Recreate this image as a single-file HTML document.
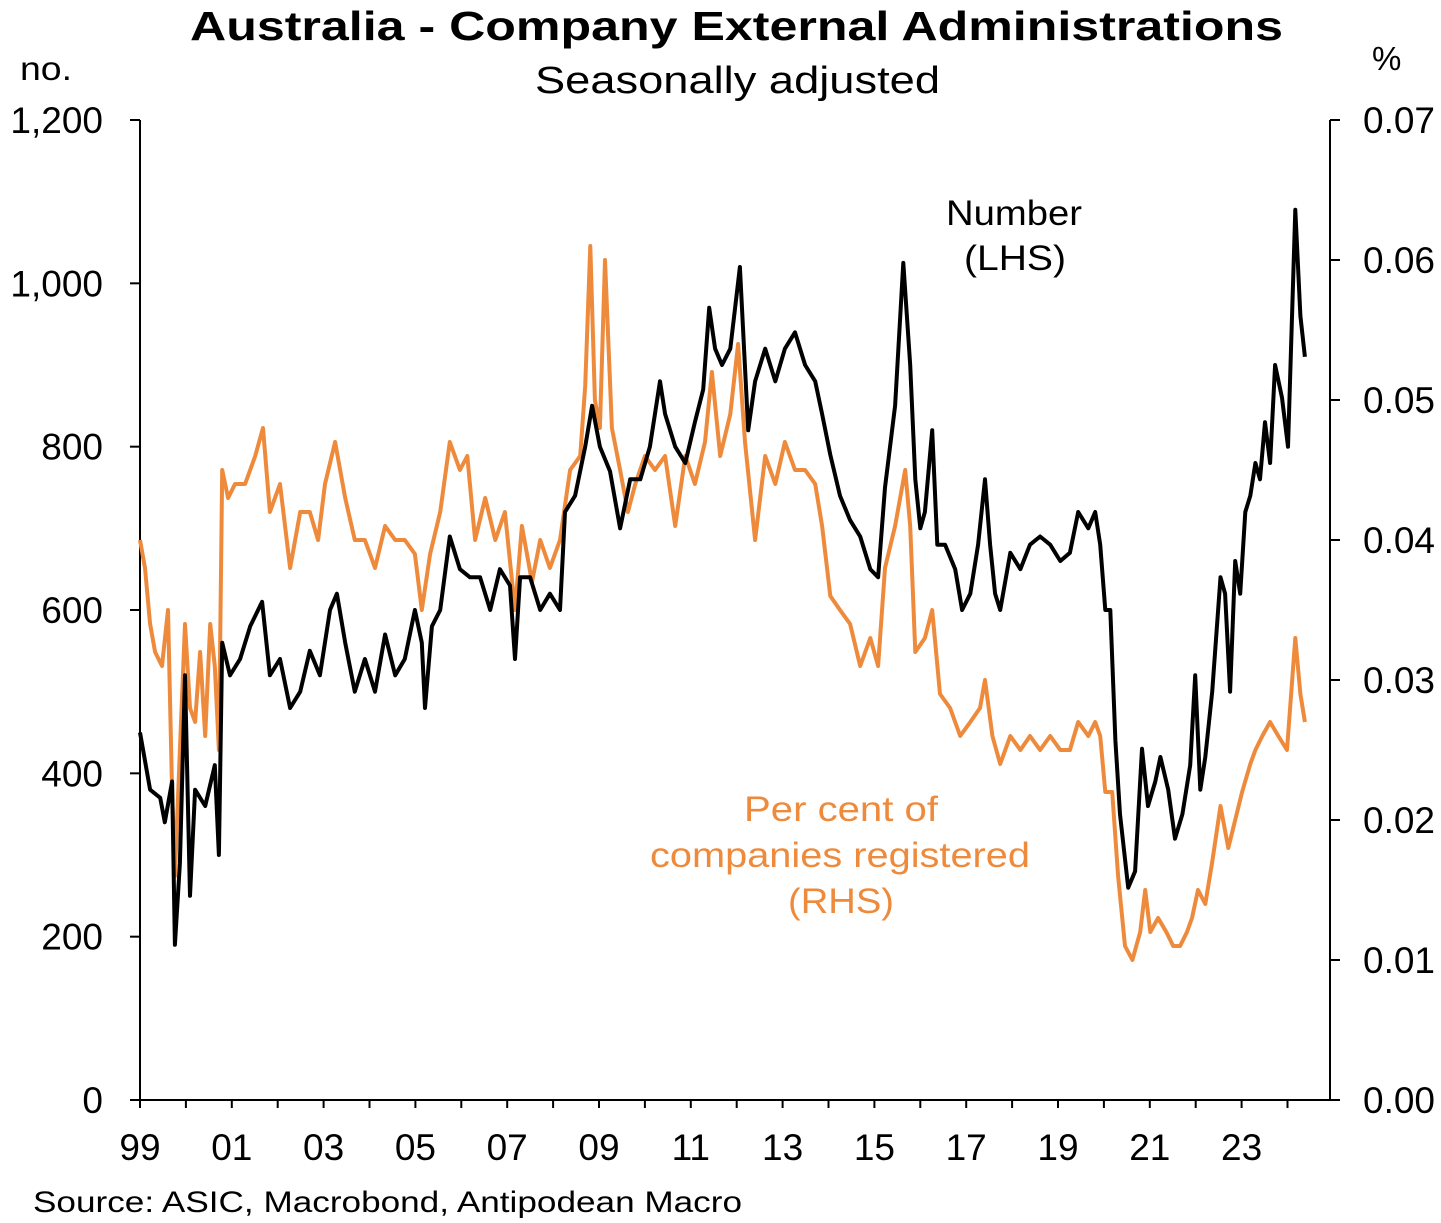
<!DOCTYPE html>
<html><head><meta charset="utf-8">
<style>
html,body{margin:0;padding:0;background:#fff;}
svg{display:block;font-family:"Liberation Sans",Arial,sans-serif;}
</style></head>
<body>
<svg id="chart" width="1441" height="1223" viewBox="0 0 1441 1223" xmlns="http://www.w3.org/2000/svg">
<text x="190" y="40" font-size="41" font-weight="bold" textLength="1093" lengthAdjust="spacingAndGlyphs">Australia - Company External Administrations</text>
<text x="535" y="93" font-size="38" textLength="405" lengthAdjust="spacingAndGlyphs">Seasonally adjusted</text>
<text x="20" y="80" font-size="33" textLength="52" lengthAdjust="spacingAndGlyphs">no.</text>
<text x="1372" y="70" font-size="33">%</text>
<text x="33" y="1212" font-size="30" textLength="709" lengthAdjust="spacingAndGlyphs">Source: ASIC, Macrobond, Antipodean Macro</text>
<text x="946" y="225" font-size="35" textLength="136" lengthAdjust="spacingAndGlyphs">Number</text>
<text x="964" y="270" font-size="35" textLength="102" lengthAdjust="spacingAndGlyphs">(LHS)</text>
<text x="744" y="821" font-size="35" fill="#EE8A3C" textLength="194" lengthAdjust="spacingAndGlyphs">Per cent of</text>
<text x="650" y="867" font-size="35" fill="#EE8A3C" textLength="380" lengthAdjust="spacingAndGlyphs">companies registered</text>
<text x="788" y="913" font-size="35" fill="#EE8A3C" textLength="106" lengthAdjust="spacingAndGlyphs">(RHS)</text>
<g id="axes"></g>
<g id="series"></g>
</svg>
<script>
const leftTicks=[0,200,400,600,800,1000,1200];
const leftTickLabels=["0","200","400","600","800","1,000","1,200"];
const rightTicks=[0,0.01,0.02,0.03,0.04,0.05,0.06,0.07];
const rightTickLabels=["0.00","0.01","0.02","0.03","0.04","0.05","0.06","0.07"];
const xTickYears=[1999,2001,2003,2005,2007,2009,2011,2013,2015,2017,2019,2021,2023];
const xTickLabels=["99","01","03","05","07","09","11","13","15","17","19","21","23"];

const numberDates=[1999.00,1999.22,1999.44,1999.54,1999.70,1999.76,1999.87,1999.98,2000.09,2000.20,2000.42,2000.63,2000.72,2000.79,2000.96,2001.18,2001.40,2001.66,2001.83,2002.05,2002.27,2002.49,2002.70,2002.92,2003.14,2003.29,2003.47,2003.68,2003.90,2004.12,2004.34,2004.56,2004.77,2004.99,2005.14,2005.21,2005.36,2005.54,2005.75,2005.97,2006.19,2006.41,2006.63,2006.84,2007.06,2007.17,2007.28,2007.50,2007.72,2007.93,2008.15,2008.26,2008.48,2008.70,2008.85,2009.02,2009.24,2009.46,2009.68,2009.90,2010.11,2010.33,2010.44,2010.66,2010.88,2011.09,2011.27,2011.40,2011.53,2011.68,2011.86,2012.07,2012.25,2012.40,2012.62,2012.84,2013.05,2013.27,2013.49,2013.71,2013.86,2014.04,2014.25,2014.47,2014.69,2014.91,2015.08,2015.23,2015.45,2015.63,2015.78,2015.89,2016.00,2016.10,2016.26,2016.37,2016.54,2016.76,2016.91,2017.09,2017.26,2017.41,2017.52,2017.63,2017.74,2017.96,2018.18,2018.39,2018.61,2018.83,2019.05,2019.26,2019.44,2019.66,2019.81,2019.92,2020.03,2020.14,2020.25,2020.35,2020.53,2020.68,2020.83,2020.96,2021.12,2021.23,2021.40,2021.55,2021.71,2021.88,2021.99,2022.10,2022.21,2022.36,2022.54,2022.64,2022.75,2022.86,2022.97,2023.08,2023.19,2023.30,2023.40,2023.51,2023.62,2023.73,2023.88,2024.01,2024.17,2024.28,2024.38];
const numberValues=[450,380,370,340,390,190,290,520,250,380,360,410,300,560,520,540,580,610,520,540,480,500,550,520,600,620,560,500,540,500,570,520,540,600,560,480,580,600,690,650,640,640,600,650,630,540,640,640,600,620,600,720,740,800,850,800,770,700,760,760,800,880,840,800,780,830,870,970,920,900,920,1020,820,880,920,880,920,940,900,880,840,790,740,710,690,650,640,750,850,1025,900,760,700,720,820,680,680,650,600,620,680,760,680,620,600,670,650,680,690,680,660,670,720,700,720,680,600,600,440,350,260,280,430,360,390,420,380,320,350,410,520,380,420,500,640,620,500,660,620,720,740,780,760,830,780,900,860,800,1090,960,910];

const pctDates=[1999.00,1999.11,1999.22,1999.33,1999.48,1999.61,1999.70,1999.76,1999.87,1999.98,2000.09,2000.20,2000.31,2000.42,2000.53,2000.63,2000.72,2000.79,2000.92,2001.07,2001.29,2001.51,2001.68,2001.83,2002.05,2002.27,2002.49,2002.70,2002.88,2003.03,2003.25,2003.47,2003.68,2003.90,2004.12,2004.34,2004.56,2004.77,2004.99,2005.14,2005.32,2005.54,2005.75,2005.97,2006.13,2006.30,2006.52,2006.74,2006.95,2007.17,2007.32,2007.54,2007.72,2007.93,2008.15,2008.37,2008.59,2008.70,2008.81,2008.91,2009.02,2009.13,2009.28,2009.46,2009.63,2009.79,2010.00,2010.22,2010.44,2010.66,2010.88,2011.09,2011.31,2011.46,2011.64,2011.86,2012.03,2012.18,2012.40,2012.62,2012.84,2013.05,2013.27,2013.49,2013.71,2013.86,2014.04,2014.25,2014.47,2014.69,2014.91,2015.08,2015.23,2015.45,2015.67,2015.78,2015.89,2016.10,2016.26,2016.43,2016.65,2016.87,2017.09,2017.30,2017.41,2017.57,2017.74,2017.96,2018.18,2018.39,2018.61,2018.83,2019.05,2019.26,2019.44,2019.66,2019.81,2019.92,2020.03,2020.18,2020.31,2020.46,2020.62,2020.79,2020.90,2021.01,2021.18,2021.36,2021.51,2021.66,2021.81,2021.92,2022.05,2022.21,2022.36,2022.54,2022.71,2022.86,2023.01,2023.19,2023.30,2023.45,2023.62,2023.80,2023.99,2024.17,2024.28,2024.38];
const pctValues=[0.040,0.038,0.034,0.032,0.031,0.035,0.022,0.016,0.025,0.034,0.028,0.027,0.032,0.026,0.034,0.031,0.025,0.045,0.043,0.044,0.044,0.046,0.048,0.042,0.044,0.038,0.042,0.042,0.040,0.044,0.047,0.043,0.040,0.040,0.038,0.041,0.040,0.040,0.039,0.035,0.039,0.042,0.047,0.045,0.046,0.040,0.043,0.040,0.042,0.035,0.041,0.037,0.040,0.038,0.040,0.045,0.046,0.051,0.061,0.050,0.048,0.060,0.048,0.045,0.042,0.044,0.046,0.045,0.046,0.041,0.046,0.044,0.047,0.052,0.046,0.049,0.054,0.047,0.040,0.046,0.044,0.047,0.045,0.045,0.044,0.041,0.036,0.035,0.034,0.031,0.033,0.031,0.038,0.041,0.045,0.041,0.032,0.033,0.035,0.029,0.028,0.026,0.027,0.028,0.030,0.026,0.024,0.026,0.025,0.026,0.025,0.026,0.025,0.025,0.027,0.026,0.027,0.026,0.022,0.022,0.016,0.011,0.010,0.012,0.015,0.012,0.013,0.012,0.011,0.011,0.012,0.013,0.015,0.014,0.017,0.021,0.018,0.020,0.022,0.024,0.025,0.026,0.027,0.026,0.025,0.033,0.029,0.027];

const NS="http://www.w3.org/2000/svg";
const X0=140,X1=1330,YT=120,YB=1100;
function xScale(yr){return X0+(yr-1999)*45.9;}
function yLeft(v){return YB-(v/1200)*(YB-YT);}
function yRight(v){return YB-(v/0.07)*(YB-YT);}
function mk(tag,attrs,parent){const e=document.createElementNS(NS,tag);for(const k in attrs)e.setAttribute(k,attrs[k]);parent.appendChild(e);return e;}
const axes=document.getElementById('axes');
const series=document.getElementById('series');

let e=mk('line',{x1:X0,y1:YT,x2:X0,y2:YB,stroke:'#000','stroke-width':2},axes);


e=mk('line',{x1:X1,y1:YT,x2:X1,y2:YB,stroke:'#000','stroke-width':2},axes);


e=mk('line',{x1:X0,y1:YB,x2:X1,y2:YB,stroke:'#000','stroke-width':2},axes);



leftTicks.forEach((v,i)=>{
  const y=yLeft(v);
  const t=mk('line',{x1:X0-10,y1:y,x2:X0,y2:y,stroke:'#000','stroke-width':2},axes);
  
  
  const l=mk('text',{x:103,y:y+13,'text-anchor':'end','font-size':37},axes);
  l.textContent=leftTickLabels[i];
  
  
});
rightTicks.forEach((v,i)=>{
  const y=yRight(v);
  const t=mk('line',{x1:X1,y1:y,x2:X1+10,y2:y,stroke:'#000','stroke-width':2},axes);
  
  
  const l=mk('text',{x:1363,y:y+13,'font-size':37},axes);
  l.textContent=rightTickLabels[i];
  
  
});
for(let yr=1999;yr<=2024;yr++){
  const x=xScale(yr);
  const t=mk('line',{x1:x,y1:YB,x2:x,y2:YB+8,stroke:'#000','stroke-width':2},axes);
  
  
}
xTickYears.forEach((yr,i)=>{
  const l=mk('text',{x:xScale(yr),y:1160,'text-anchor':'middle','font-size':37},axes);
  l.textContent=xTickLabels[i];
  
  
});

function path(dates,vals,yf){return dates.map((d,i)=>(i?'L':'M')+xScale(d).toFixed(1)+','+yf(vals[i]).toFixed(1)).join('');}
const pl=mk('path',{d:path(pctDates,pctValues,yRight),fill:'none',stroke:'#EE8A3C','stroke-width':4,'stroke-linejoin':'round'},series);


const nl=mk('path',{d:path(numberDates,numberValues,yLeft),fill:'none',stroke:'#000','stroke-width':4,'stroke-linejoin':'round'},series);


</script>
</body></html>
